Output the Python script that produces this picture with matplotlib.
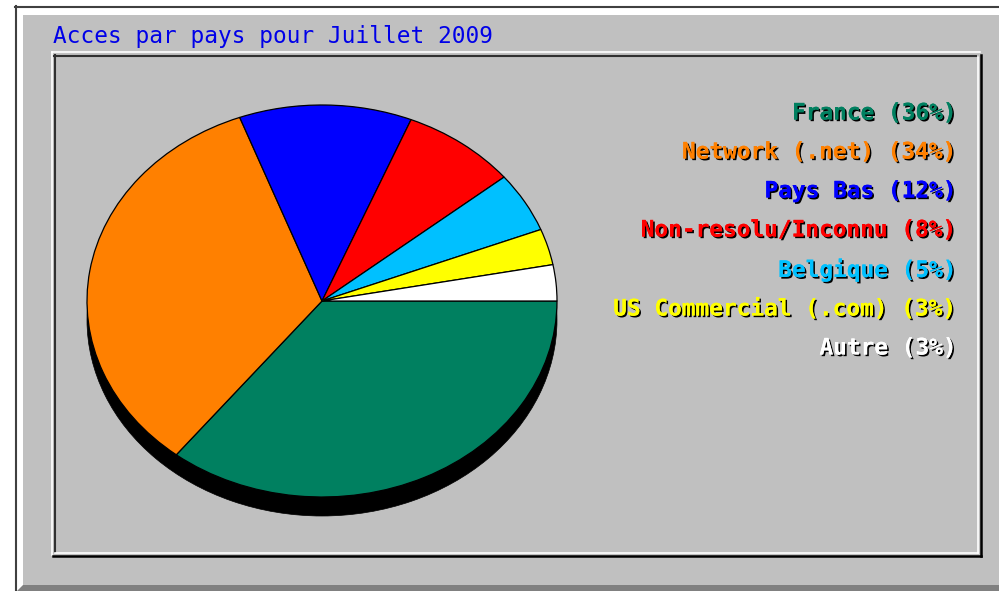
import matplotlib
matplotlib.use("Agg")
import matplotlib.pyplot as plt
import matplotlib.patheffects as pe
from matplotlib.patches import Rectangle, Polygon

# ---- data ----
title = "Acces par pays pour Juillet 2009"
categories = ["France", "Network (.net)", "Pays Bas", "Non-resolu/Inconnu",
              "Belgique", "US Commercial (.com)", "Autre"]
percents = [36, 34, 12, 8, 5, 3, 3]
colors = ["#008060", "#ff8000", "#0000ff", "#ff0000", "#00c0ff", "#ffff00", "#ffffff"]

W, H = 999, 591
fig = plt.figure(figsize=(W / 100, H / 100), dpi=100, facecolor="white")

# background axes in pixel coords
bg = fig.add_axes([0, 0, 1, 1])
bg.set_xlim(0, W)
bg.set_ylim(H, 0)
bg.axis("off")

GRAY = "#c0c0c0"
# outer frame
bg.add_patch(Rectangle((15, 6), W - 15, H - 6, facecolor="white", edgecolor="none"))
bg.add_patch(Rectangle((23, 15), W - 23, 570, facecolor=GRAY, edgecolor="none"))
bg.plot([15.5, 15.5], [6, H], color="#404040", lw=1.5)
bg.plot([15, W], [6.5, 6.5], color="#404040", lw=1.5)
bg.add_patch(Polygon([(17, H), (23, 585), (W, 585), (W, H)], closed=True,
                     facecolor="#808080", edgecolor="none"))

# inner panel bevel
bg.plot([52, 52], [52, 555], color="white", lw=1.2)
bg.plot([52, 980], [52, 52], color="white", lw=1.2)
bg.plot([54.5, 54.5], [55, 552], color="#303030", lw=1.5)
bg.plot([54, 978], [55.5, 55.5], color="#303030", lw=1.5)
bg.plot([977.5, 977.5], [56, 553], color="white", lw=1.2)
bg.plot([55, 978], [552.5, 552.5], color="white", lw=1.2)
bg.plot([980.5, 980.5], [55, 556], color="black", lw=1.8)
bg.plot([53, 981], [555.5, 555.5], color="black", lw=1.8)

FS = 16.4
# title
bg.text(53, 36, title, color="#0000e8", fontsize=FS, family="DejaVu Sans Mono",
        ha="left", va="center")

# legend labels
ys = [113, 152, 191, 230, 270, 309, 348]
for cat, p, c, y in zip(categories, percents, colors, ys):
    bg.text(957, y, f"{cat} ({p}%)", color=c, fontsize=FS, fontweight="bold",
            family="DejaVu Sans Mono", ha="right", va="center",
            path_effects=[pe.withSimplePatchShadow(offset=(1.2, -1.2),
                                                   shadow_rgbFace="black", alpha=1.0),
                          pe.Normal()])

# pie (elliptical)
cx, cy, rx, ry = 322, 301, 235, 196
shadow_px = 19
top = cy - ry
bottom = cy + ry + shadow_px + 2
pax = fig.add_axes([(cx - rx) / W, 1 - bottom / H, 2 * rx / W, (bottom - top) / H])
pax.pie([1], colors=["black"], radius=1, center=(0, -shadow_px / ry),
        wedgeprops=dict(edgecolor="black", linewidth=0.5))
pax.pie(percents, colors=colors, radius=1, center=(0, 0), startangle=0,
        counterclock=False, wedgeprops=dict(edgecolor="black", linewidth=0.9))
pax.set_xlim(-1, 1)
pax.set_ylim(1 - (bottom - top) / ry, 1)
pax.set_aspect("auto")
pax.axis("off")
for p in pax.patches:
    p.set_clip_on(False)

fig.savefig("out.png", dpi=100, facecolor="white")
